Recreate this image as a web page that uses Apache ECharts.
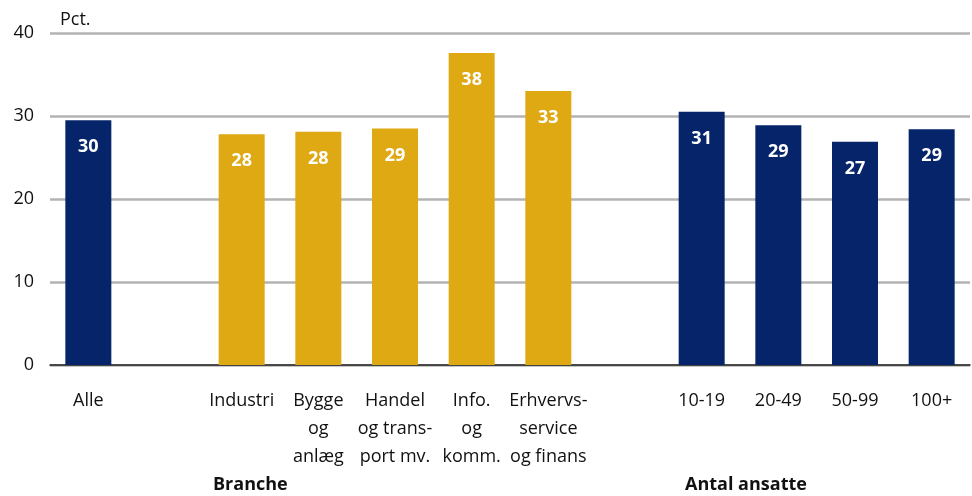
<!DOCTYPE html>
<html>
<head>
<meta charset="utf-8">
<script src="https://cdn.jsdelivr.net/npm/echarts@6/dist/echarts.min.js"></script>
<style>
  html, body { margin: 0; padding: 0; background: #fff; }
  #chart { width: 972px; height: 496px; }
</style>
</head>
<body>
<div id="chart"></div>
<script>
// kategorier (tomme pladser adskiller grupperne)
const categories = ['Alle', '', 'Industri', 'Bygge\nog\nanlæg', 'Handel\nog trans-\nport mv.', 'Info.\nog\nkomm.', 'Erhvervs-\nservice\nog finans', '', '10-19', '20-49', '50-99', '100+']
const values = [29.5, null, 27.8, 28.1, 28.5, 37.6, 33.0, null, 30.5, 28.9, 26.9, 28.4]
const labels = ['30', '', '28', '28', '29', '38', '33', '', '31', '29', '27', '29']
const groups = ['navy', null, 'gold', 'gold', 'gold', 'gold', 'gold', null, 'navy', 'navy', 'navy', 'navy']
const yTicks = [0, 10, 20, 30, 40]

const colors = { navy: '#06246a', gold: '#dea913' }
const font = '"Liberation Sans Narrow", "Open Sans", sans-serif'

const chart = echarts.init(document.getElementById('chart'))

const option = {
  animation: false,
  grid: {
    left: 50,
    right: 2,
    top: 33,
    bottom: 131
  },
  xAxis: {
    type: 'category',
    data: categories,
    axisTick: { show: false },
    axisLine: { lineStyle: { color: '#222', width: 1.5 } },
    axisLabel: {
      interval: 0,
      margin: 22,
      fontSize: 18,
      lineHeight: 28,
      color: '#111',
      fontFamily: font
    }
  },
  yAxis: {
    type: 'value',
    min: yTicks[0],
    max: yTicks[yTicks.length - 1],
    interval: 10,
    name: 'Pct.',
    nameLocation: 'end',
    nameGap: 4,
    nameTextStyle: {
      align: 'left',
      padding: [0, 0, 0, 10],
      fontSize: 18,
      color: '#111',
      fontFamily: font
    },
    axisLine: { show: false },
    axisTick: { show: false },
    axisLabel: {
      margin: 16,
      fontSize: 18,
      color: '#111',
      fontFamily: font
    },
    splitLine: { lineStyle: { color: '#b3b3b3', width: 2.5 } }
  },
  series: [
    {
      type: 'bar',
      barWidth: '60%',
      data: values.map((v, i) => ({
        value: v,
        itemStyle: { color: groups[i] ? colors[groups[i]] : 'transparent' },
        label: { formatter: labels[i] }
      })),
      label: {
        show: true,
        position: 'insideTop',
        distance: 18,
        color: '#fff',
        fontSize: 18,
        fontWeight: 'bold',
        fontFamily: font
      }
    }
  ],
  graphic: [
    {
      type: 'text',
      left: 213,
      top: 476,
      style: { text: 'Branche', fontSize: 18, fontWeight: 'bold', fill: '#111', fontFamily: font }
    },
    {
      type: 'text',
      left: 685,
      top: 476,
      style: { text: 'Antal ansatte', fontSize: 18, fontWeight: 'bold', fill: '#111', fontFamily: font }
    }
  ]
}

chart.setOption(option)
</script>
</body>
</html>
